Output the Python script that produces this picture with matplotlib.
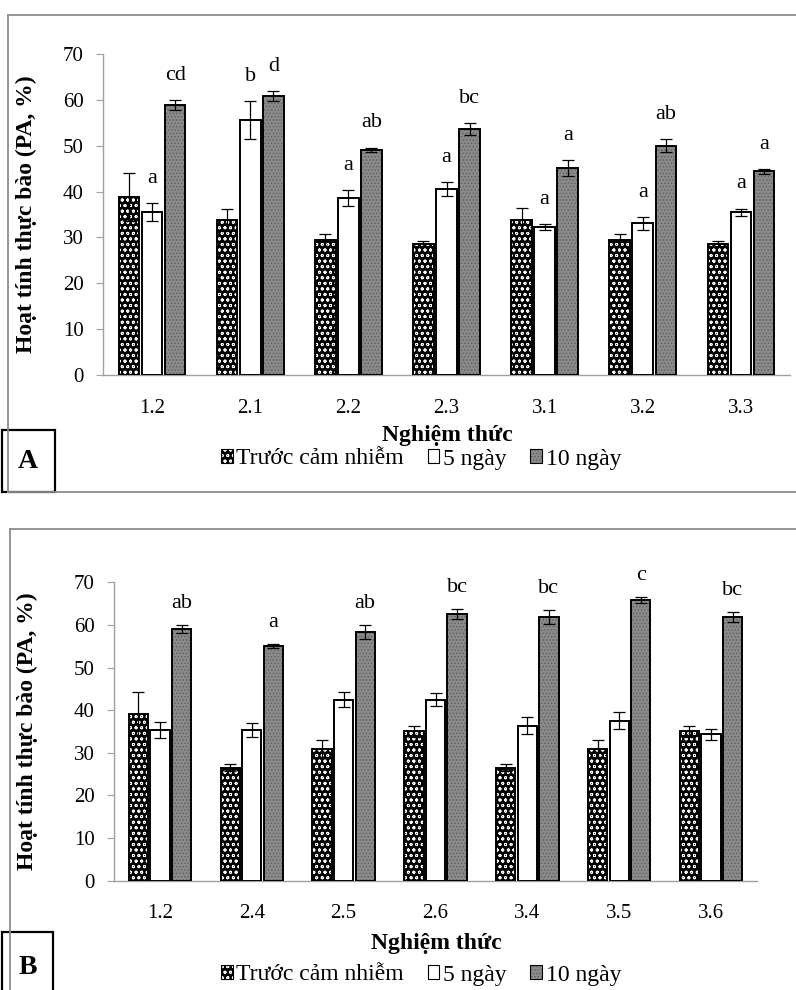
import matplotlib.pyplot as plt
from matplotlib.lines import Line2D
from matplotlib.patches import Patch, Rectangle
import numpy as np

plt.rcParams['font.family'] = ['Liberation Serif', 'DejaVu Serif']
plt.rcParams['hatch.linewidth'] = 0.6

series_names = ['Trước cảm nhiễm', '5 ngày', '10 ngày']

# panel A
groups_a = ['1.2', '2.1', '2.2', '2.3', '3.1', '3.2', '3.3']
before_a = [38.8, 33.9, 29.4, 28.6, 33.9, 29.4, 28.6]
before_a_err = [5.3, 2.4, 1.3, 0.7, 2.5, 1.3, 0.7]
day5_a = [35.5, 55.6, 38.6, 40.5, 32.3, 33.1, 35.5]
day5_a_err = [1.9, 4.2, 1.7, 1.5, 0.6, 1.4, 0.8]
day10_a = [58.9, 60.9, 49.1, 53.6, 45.2, 50.0, 44.4]
day10_a_err = [1.1, 1.1, 0.5, 1.3, 1.7, 1.4, 0.5]
letters5_a = ['a', 'b', 'a', 'a', 'a', 'a', 'a']
letters10_a = ['cd', 'd', 'ab', 'bc', 'a', 'ab', 'a']

# panel B
groups_b = ['1.2', '2.4', '2.5', '2.6', '3.4', '3.5', '3.6']
before_b = [39.1, 26.5, 31.0, 35.1, 26.5, 31.0, 35.1]
before_b_err = [5.2, 0.8, 1.9, 1.3, 0.8, 1.9, 1.3]
day5_b = [35.4, 35.4, 42.5, 42.5, 36.4, 37.5, 34.3]
day5_b_err = [1.9, 1.7, 1.7, 1.6, 2.0, 2.0, 1.3]
day10_b = [59.0, 55.1, 58.4, 62.5, 61.9, 65.8, 61.9]
day10_b_err = [1.0, 0.5, 1.6, 1.2, 1.6, 0.7, 1.2]
letters10_b = ['ab', 'a', 'ab', 'bc', 'bc', 'c', 'bc']

# fill colour, hatch, hatch colour for each series
styles = [('black', 'ooo', 'white'),
          ('white', None, 'white'),
          ('#8a8a8a', '.....', '#5e5e5e')]

W, H = 796, 990
fig = plt.figure(figsize=(W / 100, H / 100), dpi=100)

def fx(px):
    return px / W

def fy(py):
    return 1 - py / H

def draw_panel(ax, groups, series, errs, letters, lift):
    x = np.arange(len(groups))
    width = 0.21
    offsets = [-0.235, 0.0, 0.235]
    for i, (vals, err) in enumerate(zip(series, errs)):
        fc, hatch, hc = styles[i]
        ax.bar(x + offsets[i], vals, width, color=fc, hatch=hatch,
               edgecolor=hc, linewidth=0, zorder=2)
        ax.bar(x + offsets[i], vals, width, fill=False, edgecolor='black',
               linewidth=1.4, zorder=3)
        ax.errorbar(x + offsets[i], vals, yerr=err, fmt='none', ecolor='black',
                    elinewidth=0.9, capsize=4, capthick=0.9, zorder=4)
        if letters[i] is not None:
            for xi, v, e, t in zip(x, vals, err, letters[i]):
                ax.text(xi + offsets[i], v + e + lift, t, ha='center', va='bottom',
                        fontsize=16)
    ax.set_xlim(-0.5, len(groups) - 0.5)
    ax.set_ylim(0, 70)
    ax.set_yticks(range(0, 71, 10))
    ax.set_xticks(x)
    ax.set_xticklabels(groups)
    for s in ['top', 'right']:
        ax.spines[s].set_visible(False)
    for s in ['left', 'bottom']:
        ax.spines[s].set_color('#a0a0a0')
        ax.spines[s].set_linewidth(1.0)
    ax.tick_params(axis='x', length=0, pad=17, labelsize=15)
    ax.tick_params(axis='y', length=5, color='#a0a0a0', pad=9, labelsize=15)
    ax.set_ylabel('Hoạt tính thực bào (PA, %)', fontsize=17, fontweight='bold')

# legend handles: fill layer + black outline
handles = []
for fc, hatch, hc in styles:
    handles.append((Patch(facecolor=fc, hatch=hatch, edgecolor=hc, linewidth=0),
                    Patch(fill=False, edgecolor='black', linewidth=0.8)))

legend_kw = dict(loc='center', ncol=3, frameon=False, fontsize=17,
                 handlelength=0.5, handleheight=0.5, handletextpad=0.15,
                 columnspacing=1.0)

# ---- panel A
ax_a = fig.add_axes([fx(103), fy(375), fx(790 - 103), (375 - 54) / H])
draw_panel(ax_a, groups_a, [before_a, day5_a, day10_a],
           [before_a_err, day5_a_err, day10_a_err],
           [None, letters5_a, letters10_a], 3.3)
ax_a.yaxis.set_label_coords(fx(37 - 103) / fx(687), 0.5)
fig.text(fx(447), fy(436), 'Nghiệm thức', ha='center', va='center',
         fontsize=17, fontweight='bold')
fig.legend(handles, series_names, bbox_to_anchor=(fx(421), fy(459)), **legend_kw)

# ---- panel B
ax_b = fig.add_axes([fx(114), fy(880.7), fx(757 - 114), (880.7 - 582.3) / H])
draw_panel(ax_b, groups_b, [before_b, day5_b, day10_b],
           [before_b_err, day5_b_err, day10_b_err],
           [None, None, letters10_b], 2.8)
ax_b.yaxis.set_label_coords(fx(38 - 114) / fx(643), 0.5)
fig.text(fx(436), fy(943), 'Nghiệm thức', ha='center', va='center',
         fontsize=17, fontweight='bold')
fig.legend(handles, series_names, bbox_to_anchor=(fx(421), fy(975)), **legend_kw)

# panel frames (grey, open on the right)
frame = dict(color='#8c8c8c', linewidth=1.3, transform=fig.transFigure)
fig.add_artist(Line2D([fx(8), fx(8)], [fy(15), fy(492)], **frame))
fig.add_artist(Line2D([fx(8), 1.0], [fy(15), fy(15)], **frame))
fig.add_artist(Line2D([fx(8), 1.0], [fy(492), fy(492)], **frame))
fig.add_artist(Line2D([fx(10), fx(10)], [fy(529), 0.0], **frame))
fig.add_artist(Line2D([fx(10), 1.0], [fy(529), fy(529)], **frame))

# panel letters
fig.add_artist(Rectangle((fx(2), fy(492)), fx(53), (492 - 430) / H, fill=False,
                         edgecolor='black', linewidth=1.6, transform=fig.transFigure))
fig.text(fx(28), fy(462), 'A', ha='center', va='center', fontsize=20, fontweight='bold')
fig.add_artist(Rectangle((fx(2), fy(995)), fx(51), (995 - 932) / H, fill=False,
                         edgecolor='black', linewidth=1.6, transform=fig.transFigure))
fig.text(fx(28), fy(968), 'B', ha='center', va='center', fontsize=20, fontweight='bold')

fig.savefig('out.png', dpi=100)
